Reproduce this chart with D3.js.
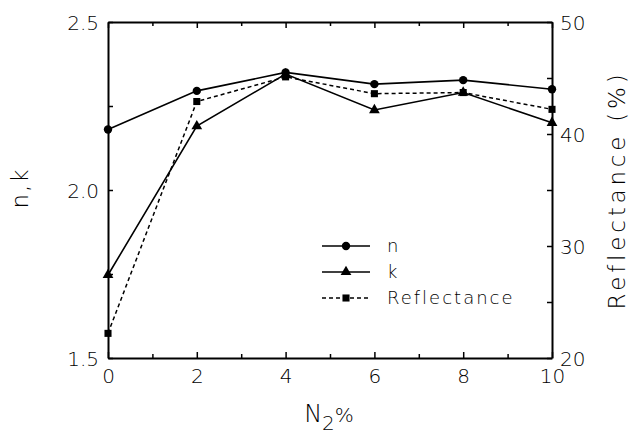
<!DOCTYPE html>
<html>
<head>
<meta charset="utf-8">
<script src="https://cdn.jsdelivr.net/npm/d3@7"></script>
<style>
  body { margin: 0; background: #fff; }
  text { font-family: "DejaVu Sans", sans-serif; font-weight: 200; fill: #000; }
</style>
</head>
<body>
<div id="chart"></div>
<script>
// N2 percentage
var n2 = [0, 2, 4, 6, 8, 10];
// refractive index n and extinction k (left axis)
var nVals = [2.18, 2.295, 2.35, 2.315, 2.327, 2.30];
var kVals = [1.747, 2.19, 2.345, 2.238, 2.29, 2.20];
// reflectance % (right axis)
var reflVals = [22.2, 42.9, 45.1, 43.6, 43.7, 42.2];

var xTicks = [0, 2, 4, 6, 8, 10];
var yTicks = [1.5, 2.0, 2.5];
var y2Ticks = [20, 30, 40, 50];

var W = 631, H = 435,
    margin = { top: 22, right: 79, bottom: 77, left: 108 },
    width = W - margin.left - margin.right,
    height = H - margin.top - margin.bottom;

var svg = d3.select("#chart").append("svg")
    .attr("width", W)
    .attr("height", H);

var g = svg.append("g")
    .attr("transform", "translate(" + margin.left + "," + margin.top + ")");

var x = d3.scaleLinear().domain([0, 10]).range([0, width]);
var y = d3.scaleLinear().domain([1.5, 2.5]).range([height, 0]);
var y2 = d3.scaleLinear().domain([20, 50]).range([height, 0]);

// axes, ticks point inward
var tickLen = 5;
var isMajorX = function (d) { return xTicks.indexOf(d) >= 0; };

g.append("g")
    .attr("transform", "translate(0," + height + ")")
    .call(d3.axisBottom(x).tickValues(d3.range(0, 11, 1)).tickSizeInner(-tickLen).tickSizeOuter(0)
        .tickFormat(function (d) { return isMajorX(d) ? d : ""; }))
    .call(function (a) {
        a.selectAll("text").attr("dy", 0).attr("y", 25).style("font-size", "20px");
        a.selectAll(".tick line").attr("y2", function (d) { return isMajorX(d) ? -6 : -4; });
    });
g.append("g")
    .call(d3.axisTop(x).tickValues(d3.range(0, 11, 1)).tickSizeInner(-tickLen).tickSizeOuter(0).tickFormat(""))
    .call(function (a) {
        a.selectAll(".tick line").attr("y2", function (d) { return isMajorX(d) ? 6 : 4; });
    });
g.append("g")
    .call(d3.axisLeft(y).tickValues(d3.range(1.5, 2.51, 0.25)).tickSizeInner(-tickLen).tickSizeOuter(0)
        .tickFormat(function (d) { return yTicks.some(function (t) { return Math.abs(t - d) < 1e-6; }) ? d3.format(".1f")(d) : ""; }))
    .call(function (a) {
        a.selectAll("text").attr("x", -9).attr("dy", "0.35em").style("font-size", "20px");
    });
g.append("g")
    .attr("transform", "translate(" + width + ",0)")
    .call(d3.axisRight(y2).tickValues(d3.range(20, 51, 5)).tickSizeInner(-tickLen).tickSizeOuter(0)
        .tickFormat(function (d) { return y2Ticks.indexOf(d) >= 0 ? d : ""; }))
    .call(function (a) {
        a.selectAll("text").attr("x", 8).attr("dy", "0.35em").style("font-size", "20px");
    });

g.selectAll(".domain").attr("stroke-width", 2);
g.selectAll(".tick line").attr("stroke-width", 1.5);

// lines
var lineN = d3.line().x(function (d, i) { return x(n2[i]); }).y(function (d) { return y(d); });
var lineR = d3.line().x(function (d, i) { return x(n2[i]); }).y(function (d) { return y2(d); });

g.append("path").datum(nVals).attr("d", lineN)
    .attr("fill", "none").attr("stroke", "#000").attr("stroke-width", 1.6);
g.append("path").datum(kVals).attr("d", lineN)
    .attr("fill", "none").attr("stroke", "#000").attr("stroke-width", 1.6);
g.append("path").datum(reflVals).attr("d", lineR)
    .attr("fill", "none").attr("stroke", "#000").attr("stroke-width", 1.5)
    .attr("stroke-dasharray", "4,3");

var circ = d3.symbol().type(d3.symbolCircle).size(55);
var tri = d3.symbol().type(d3.symbolTriangle).size(50);
var sq = d3.symbol().type(d3.symbolSquare).size(50);

g.selectAll(".mn").data(nVals).enter().append("path")
    .attr("d", circ)
    .attr("transform", function (d, i) { return "translate(" + x(n2[i]) + "," + y(d) + ")"; });
g.selectAll(".mk").data(kVals).enter().append("path")
    .attr("d", tri)
    .attr("transform", function (d, i) { return "translate(" + x(n2[i]) + "," + y(d) + ")"; });
g.selectAll(".mr").data(reflVals).enter().append("path")
    .attr("d", sq)
    .attr("transform", function (d, i) { return "translate(" + x(n2[i]) + "," + y2(d) + ")"; });

// legend
var legendItems = [
    { label: "n", sym: circ, dash: null },
    { label: "k", sym: tri, dash: null },
    { label: "Reflectance", sym: sq, dash: "4,3" }
];
var legend = svg.selectAll(".legend").data(legendItems).enter().append("g")
    .attr("transform", function (d, i) { return "translate(322," + (246 + i * 26) + ")"; });
legend.append("line")
    .attr("x1", 0).attr("x2", 48).attr("y1", 0).attr("y2", 0)
    .attr("stroke", "#000").attr("stroke-width", 1.6)
    .attr("stroke-dasharray", function (d) { return d.dash; });
legend.append("path").attr("d", function (d) { return d.sym(); })
    .attr("transform", "translate(24,0)");
legend.append("text").attr("x", 65).attr("dy", "0.35em")
    .style("font-size", "18px").style("letter-spacing", "2px")
    .text(function (d) { return d.label; });

// axis titles
svg.append("text")
    .attr("transform", "translate(28,188) rotate(-90)")
    .attr("text-anchor", "middle")
    .style("font-size", "23px").style("letter-spacing", "2px")
    .text("n,k");
svg.append("text")
    .attr("transform", "translate(625,190) rotate(-90)")
    .attr("text-anchor", "middle")
    .style("font-size", "23px").style("letter-spacing", "3.8px")
    .text("Reflectance (%)");
var xt = svg.append("text")
    .attr("x", 329).attr("y", 422)
    .attr("text-anchor", "middle")
    .style("font-size", "24px");
xt.append("tspan").text("N");
xt.append("tspan").attr("dy", 8).style("font-size", "20px").text("2");
xt.append("tspan").attr("dy", -8).style("font-size", "20px").text("%");
</script>
</body>
</html>
